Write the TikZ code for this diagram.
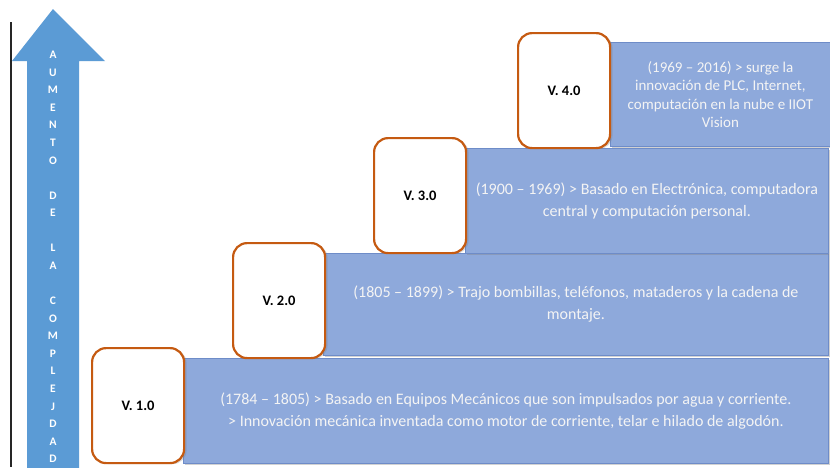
\documentclass[tikz,border=0pt]{standalone}
\usepackage{fontspec}
\setmainfont{Carlito}
\usetikzlibrary{shadows}
\definecolor{stepfill}{HTML}{8EA9DB}
\definecolor{stepline}{HTML}{6E8CC8}
\definecolor{arrowblue}{HTML}{5B9BD5}
\definecolor{vborder}{HTML}{C55A11}
\definecolor{steptext}{HTML}{F4F4F4}
\begin{document}
\begin{tikzpicture}[x=1pt,y=-1pt,
  stage/.style={draw=stepline, line width=0.8pt, fill=stepfill, anchor=north west,
    inner sep=0pt, align=center, text=steptext,
    font=\fontsize{16}{22}\selectfont,
    drop shadow={shadow xshift=1.5pt, shadow yshift=-2pt, opacity=0.35}},
  version/.style={draw=vborder, line width=2.2pt, fill=white, rounded corners=14pt,
    anchor=north west, minimum width=92pt, minimum height=115pt, inner sep=0pt,
    font=\bfseries\fontsize{14.5}{17}\selectfont,
    drop shadow={shadow xshift=2.5pt, shadow yshift=-1pt, opacity=0.3}},
]
\useasboundingbox (0,0) rectangle (830,467);
\fill[white] (0,0) rectangle (830,467);

% vertical axis line
\coordinate (axtop) at (11,22);
\coordinate (axbot) at (11,467);
\draw[line width=2pt, black!85] (axtop) -- (axbot);

% upward arrow with its stacked caption
\fill[arrowblue] (12,61) -- (53,9) -- (105,61) -- (79,61) -- (79,470)
  -- (27,470) -- (27,61) -- cycle;
\node[anchor=north, inner sep=0pt, align=center, text=white,
  font=\bfseries\fontsize{11.5}{17.57}\selectfont] (caption) at (53,51)
  {A\\U\\M\\E\\N\\T\\O\\\mbox{}\\D\\E\\\mbox{}\\L\\A\\\mbox{}\\C\\O\\M\\P\\L\\E\\J\\D\\A\\D};

% staircase of stages
\node[stage, minimum width=645pt, minimum height=105pt] (s1) at (183,358)
  {(1784 – 1805) > Basado en Equipos Mecánicos que son impulsados por agua y corriente.\\
   > Innovación mecánica inventada como motor de corriente, telar e hilado de algodón.};
\node[stage, minimum width=505pt, minimum height=102pt] (s2) at (323,253)
  {(1805 – 1899) > Trajo bombillas, teléfonos, mataderos y la cadena de\\montaje.};
\node[stage, minimum width=363pt, minimum height=105pt] (s3) at (465,148)
  {(1900 – 1969) > Basado en Electrónica, computadora\\central y computación personal.};
\node[stage, minimum width=220pt, minimum height=104pt,
  font=\fontsize{15}{18.5}\selectfont] (s4) at (610,42)
  {(1969 – 2016) > surge la\\innovación de PLC, Internet,\\computación en la nube e IIOT\\Vision};

% version labels
\node[version] (v1) at (91,347) {V. 1.0};
\node[version] (v2) at (232,242) {V. 2.0};
\node[version] (v3) at (373,137) {V. 3.0};
\node[version] (v4) at (517,32) {V. 4.0};
\end{tikzpicture}
\end{document}
